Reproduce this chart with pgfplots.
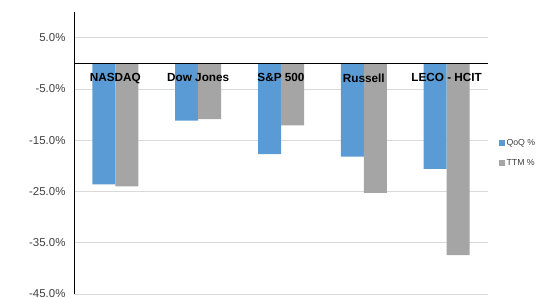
\documentclass[border=0pt]{standalone}
\usepackage{fontspec}
\setmainfont{Liberation Sans}
\usepackage{pgfplots}
\pgfplotsset{compat=1.18}
\definecolor{qoq}{HTML}{5B9BD5}
\definecolor{ttm}{HTML}{A5A5A5}
\definecolor{gridc}{HTML}{D9D9D9}
\definecolor{tickc}{HTML}{404040}
\pgfplotsset{
  layers/mylayers/.define layer set={axis background,axis grid,main,axis ticks,axis lines,axis tick labels,axis descriptions,axis foreground}{
    grid style={/pgfplots/on layer=axis grid},
    tick style={/pgfplots/on layer=axis ticks},
    axis line style={/pgfplots/on layer=axis lines},
    label style={/pgfplots/on layer=axis descriptions},
    legend style={/pgfplots/on layer=axis descriptions},
    title style={/pgfplots/on layer=axis descriptions},
    ticklabel style={/pgfplots/on layer=axis tick labels},
    axis background@ style={/pgfplots/on layer=axis background},
  },
}
\begin{document}
\begin{tikzpicture}
\begin{axis}[
  set layers=mylayers,
  scale only axis=true,
  width=414bp, height=282bp,
  xmin=-0.5, xmax=4.5,
  ymin=-45, ymax=10,
  axis x line=middle,
  axis y line*=left,
  x axis line style={-, black, line width=0.8pt},
  y axis line style={-, black, line width=0.8pt},
  xtick={0,1,2,3,4},
  xticklabels={NASDAQ,Dow Jones,S\&P 500,Russell,LECO - HCIT},
  xticklabel style={font=\fontsize{11.8}{13}\selectfont\bfseries, anchor=north, yshift=-7bp},
  major tick length=0pt,
  ytick={-45,-35,-25,-15,-5,5},
  yticklabels={-45.0\%,-35.0\%,-25.0\%,-15.0\%,-5.0\%,5.0\%},
  yticklabel style={font=\fontsize{11.5}{13}\selectfont, text=tickc, xshift=-5bp},
  ymajorgrids=true,
  grid style={gridc, line width=0.6pt},
  ybar=0pt,
  bar width=23bp,
  legend style={at={(1.025,0.5)}, anchor=west, draw=none, fill=none,
    font=\fontsize{8.8}{10}\selectfont, text=tickc, row sep=9bp,
    inner sep=0pt, cells={anchor=west}},
  legend image code/.code={\fill[#1] (0bp,-3bp) rectangle (6bp,3bp);},
  clip=false,
]
\addplot[fill=qoq, draw=none] coordinates {(0,-23.6) (1,-11.2) (2,-17.7) (3,-18.2) (4,-20.6)};
\addplot[fill=ttm, draw=none] coordinates {(0,-24.0) (1,-10.9) (2,-12.1) (3,-25.3) (4,-37.4)};
\legend{QoQ \%, TTM \%}
\end{axis}
\pgfresetboundingbox
\path[use as bounding box] (-74bp,-4bp) rectangle (474bp,294bp);
\end{tikzpicture}
\end{document}
